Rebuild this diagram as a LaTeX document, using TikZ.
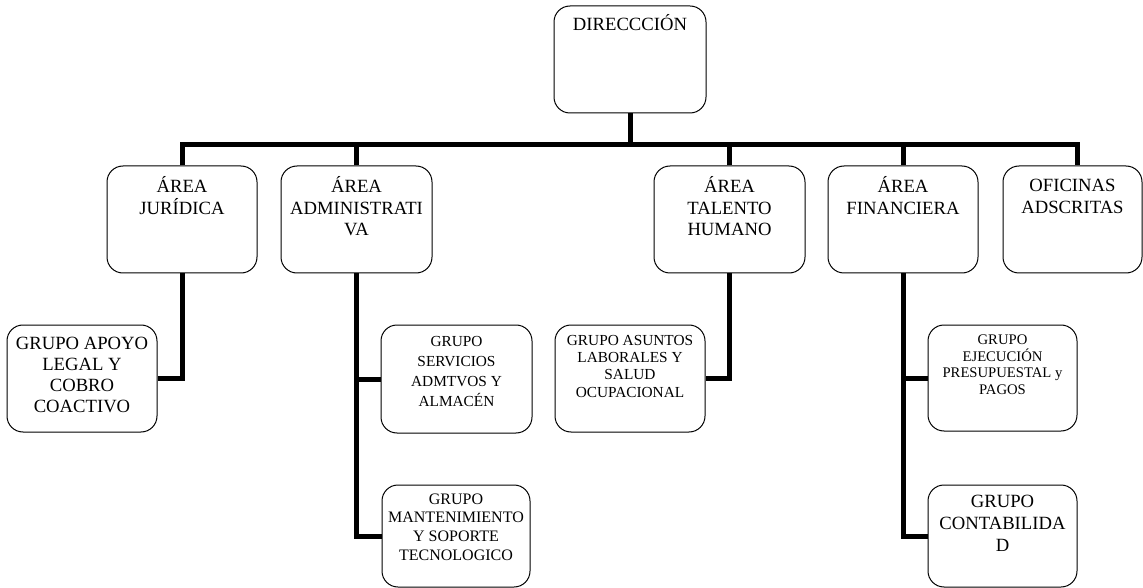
\documentclass[tikz,border=0pt]{standalone}
\usepackage{fontspec}
\setmainfont{Liberation Serif}
\usetikzlibrary{positioning}

\begin{document}
\begin{tikzpicture}[x=0.75pt, y=-0.75pt,
        caja/.style={draw, line width=0.75pt, rounded corners=12pt, inner sep=0pt, minimum width=112.5pt, minimum height=80.25pt},
        texto/.style={align=center, inner sep=0pt, font=\fontsize{14}{16.3}\selectfont},
        conector/.style={line width=3.75pt}]
        \useasboundingbox (0,0) rectangle (1143,588);

        % direccion y areas
        \node[caja, minimum width=114pt] (dir) at (630,59.5) {};
        \node[caja] (jur) at (182,219.5) {};
        \node[caja, minimum width=113.25pt] (adm) at (356.5,219.5) {};
        \node[caja, minimum width=113.25pt] (tal) at (729.5,219.5) {};
        \node[caja] (fin) at (903,219.5) {};
        \node[caja, minimum width=104.25pt] (ofi) at (1072.5,219.5) {};

        \node[texto, below=6.5pt of dir.north] (dir-t) {DIRECCCIÓN};
        \node[texto, below=8pt of jur.north] (jur-t) {ÁREA\\JURÍDICA};
        \node[texto, below=8pt of adm.north] (adm-t) {ÁREA\\ADMINISTRATI\\VA};
        \node[texto, below=8pt of tal.north] (tal-t) {ÁREA\\TALENTO\\HUMANO};
        \node[texto, below=8pt of fin.north] (fin-t) {ÁREA\\FINANCIERA};
        \node[texto, below=10pt of ofi.north] (ofi-t) {OFICINAS\\ADSCRITAS};

        % grupos
        \node[caja] (apoyo) at (82,378.5) {};
        \node[caja, minimum width=113.25pt, minimum height=81pt] (serv) at (456.5,379) {};
        \node[caja, minimum width=111pt, minimum height=76.5pt] (mant) at (456,536) {};
        \node[caja] (asuntos) at (630,378.5) {};
        \node[caja, minimum width=111.75pt, minimum height=79.5pt] (ejec) at (1002.5,378) {};
        \node[caja, minimum width=111.75pt, minimum height=76.5pt] (contab) at (1002.5,536) {};

        \node[texto, font=\fontsize{14}{15.75}\selectfont, below=9.25pt of apoyo.north] (apoyo-t) {GRUPO APOYO\\LEGAL Y\\COBRO\\COACTIVO};
        \node[texto, font=\fontsize{11.5}{15}\selectfont, below=8.7pt of serv.north] (serv-t) {GRUPO\\SERVICIOS\\ADMTVOS Y\\ALMACÉN};
        \node[texto, font=\fontsize{12}{13.9}\selectfont, below=6.8pt of mant.north] (mant-t) {GRUPO\\MANTENIMIENTO\\Y SOPORTE\\TECNOLOGICO};
        \node[texto, font=\fontsize{11.5}{12.9}\selectfont, below=7.95pt of asuntos.north] (asuntos-t) {GRUPO ASUNTOS\\LABORALES Y\\SALUD\\OCUPACIONAL};
        \node[texto, font=\fontsize{11}{12.5}\selectfont, below=7.5pt of ejec.north] (ejec-t) {GRUPO\\EJECUCIÓN\\PRESUPUESTAL y\\PAGOS};
        \node[texto, font=\fontsize{14}{16.5}\selectfont, below=7.9pt of contab.north] (contab-t) {GRUPO\\CONTABILIDA\\D};

        % lineas
        \coordinate (bus) at (630,145);
        \draw[conector] (dir.south) -- (bus);
        \draw[conector] (jur.north) |- (bus) -| ([xshift=3.4pt]ofi.north);
        \foreach \n in {adm,tal,fin}
            \draw[conector] (\n.north) -- (\n.north |- bus);

        \draw[conector] (jur.south) |- (apoyo.east);
        \draw[conector] (adm.south) |- (mant.west);
        \draw[conector] (adm.south |- serv.west) -- (serv.west);
        \draw[conector] (tal.south) |- (asuntos.east);
        \draw[conector] (fin.south) |- (contab.west);
        \draw[conector] (fin.south |- ejec.west) -- (ejec.west);
\end{tikzpicture}
\end{document}
